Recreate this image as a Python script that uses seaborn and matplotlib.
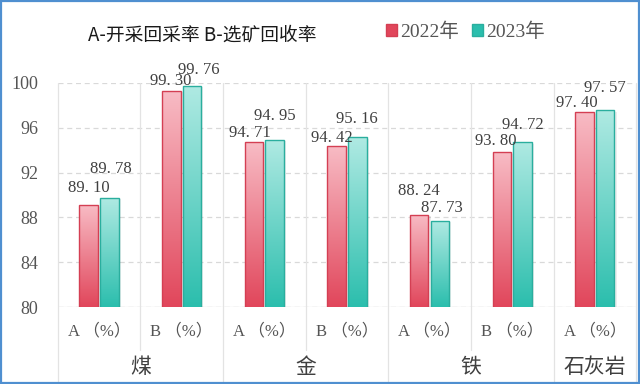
import numpy as np
import pandas as pd
import matplotlib
matplotlib.use('Agg')
import matplotlib.pyplot as plt
import seaborn as sns
from matplotlib.colors import LinearSegmentedColormap
from matplotlib.patches import Rectangle
from matplotlib.lines import Line2D

groups    = ['煤', '金', '铁', '石灰岩']
sub_keys  = ['煤A', '煤B', '金A', '金B', '铁A', '铁B', '石灰岩A']
sub_names = ['A （%）', 'B （%）', 'A （%）', 'B （%）', 'A （%）', 'B （%）', 'A （%）']
years     = ['2022年', '2023年']
v2022     = [89.10, 99.30, 94.71, 94.42, 88.24, 93.80, 97.40]
v2023     = [89.78, 99.76, 94.95, 95.16, 87.73, 94.72, 97.57]

# label nudges in pixels (dx, height above bar top), Excel moved them to avoid clashes
lab_dx = [0, -1, -4, -5, 0, -6, -8,   2, 7, 0, 0, 2, 0, 0]
lab_dy = [17, 10, 9, 8, 24, 11, 9,   29, 16, 24, 18, 13, 17, 22]

df = pd.DataFrame({
    'key'  : sub_keys * 2,
    'year' : [years[0]] * len(sub_keys) + [years[1]] * len(sub_keys),
    'val'  : v2022 + v2023,
})

sns.set_theme(style='white')
plt.rcParams['font.family'] = ['Liberation Serif', 'Noto Sans CJK SC', 'DejaVu Sans']

RED  = ('#f8bcc5', '#e1465b', '#d43f53')
TEAL = ('#b0eae3', '#2bbead', '#2aae9e')
TXT  = '#404040'

fig = plt.figure(figsize=(6.4, 3.84), dpi=100)
fig.patch.set_facecolor('white')
ax = fig.add_axes([0.09, 0.2, 0.904, 0.584])

sns.barplot(data=df, x='key', y='val', hue='year', order=sub_keys,
            hue_order=years, palette=[RED[1], TEAL[1]], width=0.5, gap=0.1,
            ax=ax, legend=False, zorder=3)

ax.tick_params(axis='y', length=0, pad=14, labelsize=13, colors='#555555')
ax.tick_params(axis='x', length=0, pad=12, labelsize=12, colors='#555555')
ax.set_xticks(range(len(sub_keys)))
ax.set_xticklabels(sub_names)
ax.set_xlabel(''); ax.set_ylabel('')
for s in ax.spines.values():
    s.set_visible(False)
ax.yaxis.grid(True, ls=(0, (4, 3)), color='#d9d9d9', lw=0.9, zorder=0)
ax.axhline(80, color='#d9d9d9', lw=0.9, zorder=1)

# gradient fill on every bar, light at the top and strong at the base
n = len(sub_keys)
grad = np.linspace(0, 1, 256).reshape(-1, 1)
for i, p in enumerate(ax.patches[:2 * n]):
    c = RED if i < n else TEAL
    cmap = LinearSegmentedColormap.from_list('g', [c[1], c[0]])
    x0, w = p.get_x(), p.get_width()
    top = p.get_y() + p.get_height()
    p.set_facecolor('none')
    p.set_edgecolor(c[2]); p.set_linewidth(1.0)
    ax.add_patch(Rectangle((x0 + 0.025, 80), w, top - 80.15, color='#000000',
                           alpha=0.07, zorder=2, lw=0))
    im = ax.imshow(grad, cmap=cmap, aspect='auto', origin='lower',
                   extent=[x0, x0 + w, 80, top], zorder=2.5)
    im.set_clip_path(p)
    ax.annotate(f'{top:.2f}'.replace('.', '. '), (x0 + w / 2, top),
                xytext=(lab_dx[i] * 0.72, lab_dy[i] * 0.72), textcoords='offset points',
                ha='center', va='center', fontsize=12, color=TXT, zorder=5,
                annotation_clip=False)

ax.set_ylim(80, 100)
ax.set_xlim(-0.5, len(sub_keys) - 0.5)
ax.set_yticks(np.arange(80, 101, 4))

# multi-level category separators
bounds_inner = [0.5, 2.5, 4.5]
bounds_outer = [-0.5, 1.5, 3.5, 5.5, 6.5]
for b in bounds_inner:
    ax.add_line(Line2D([b, b], [1, -0.19], transform=ax.get_xaxis_transform(),
                       color='#e3e3e3', lw=0.9, clip_on=False, zorder=1))
for b in bounds_outer:
    ax.add_line(Line2D([b, b], [1, -0.34], transform=ax.get_xaxis_transform(),
                       color='#e3e3e3', lw=0.9, clip_on=False, zorder=1))

group_centers = [0.5, 2.5, 4.5, 6.0]
for g, c in zip(groups, group_centers):
    ax.text(c, -0.265, g, transform=ax.get_xaxis_transform(), ha='center',
            va='center', fontsize=15, color=TXT,
            family=['Noto Sans CJK SC', 'DejaVu Sans'])

fig.text(0.137, 0.909, 'A-开采回采率 B-选矿回收率', fontsize=13.5, color='#1a1a1a',
         va='center', family=['Noto Sans CJK SC', 'DejaVu Sans'])

handles = [Rectangle((0, 0), 1, 1, fc=RED[1], ec=RED[2]),
           Rectangle((0, 0), 1, 1, fc=TEAL[1], ec=TEAL[2])]
fig.legend(handles, years, loc='center', bbox_to_anchor=(0.727, 0.918), ncol=2,
           frameon=False, fontsize=14, handlelength=0.55, handleheight=0.55,
           handletextpad=0.15, columnspacing=0.7, labelcolor='#555555')

fig.patches.append(Rectangle((0.002, 0.003), 0.996, 0.994, transform=fig.transFigure,
                             fill=False, ec='#4f8fd0', lw=1.6))

fig.savefig('out.png', dpi=100)
